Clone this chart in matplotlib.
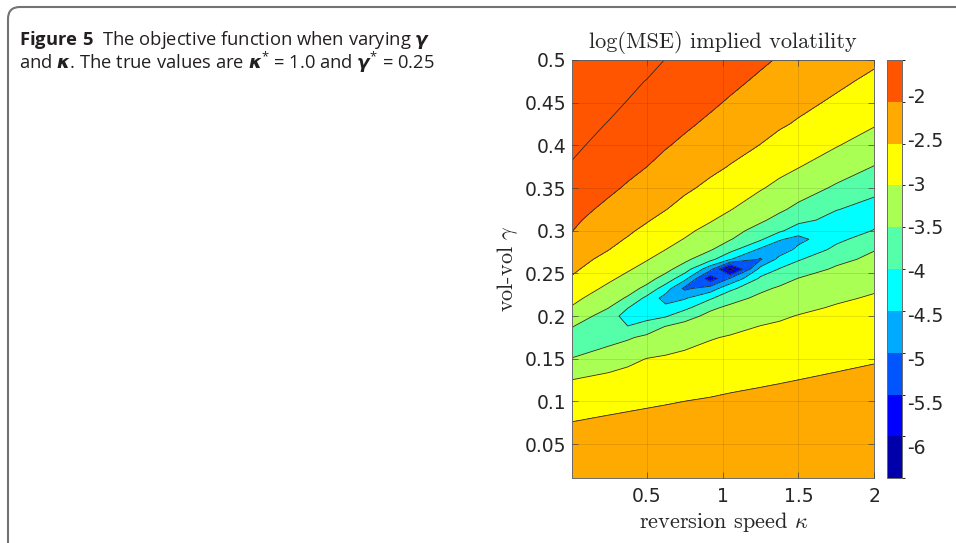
import numpy as np
import matplotlib
matplotlib.use("Agg")
import matplotlib.pyplot as plt
import matplotlib.cm as cm
from matplotlib.colors import ListedColormap, BoundaryNorm
from matplotlib.patches import FancyBboxPatch
from matplotlib.transforms import IdentityTransform

plt.rcParams['axes.unicode_minus'] = False
# custom math fonts, used only by the caption (math_fontfamily='custom')
plt.rcParams['mathtext.rm'] = 'Open Sans'
plt.rcParams['mathtext.bf'] = 'Open Sans:bold'
plt.rcParams['mathtext.it'] = 'DejaVu Sans:italic'
plt.rcParams['mathtext.bfit'] = 'DejaVu Sans:italic:bold'

# ---------------- data ----------------
KAPPA = [0.01, 0.25, 0.375, 0.5, 0.625, 0.75, 0.92, 1.05, 1.25, 1.375, 1.5, 1.75, 2.0]
GAMMA = [0.01, 0.05, 0.075, 0.1, 0.125, 0.15, 0.175, 0.1875, 0.2, 0.21,
         0.221, 0.2325, 0.244, 0.255, 0.2665, 0.278, 0.29, 0.3, 0.3125, 0.325,
         0.35, 0.375, 0.4, 0.425, 0.45, 0.475, 0.5]

# log(MSE) values, one list per kappa column (bottom -> top in gamma)
LOGMSE_K0_01 = [-2.20, -2.24, -2.487, -2.745, -2.99, -3.49, -3.689, -3.49, -3.24, -3.04,
                -2.871, -2.707, -2.543, -2.425, -2.316, -2.208, -2.094, -1.995, -1.925, -1.85,
                -1.805, -1.761, -1.726, -1.695, -1.663, -1.632, -1.60]
LOGMSE_K0_25 = [-2.20, -2.26, -2.416, -2.648, -2.880, -3.220, -3.692, -3.940, -3.705, -3.49,
                -3.304, -3.098, -2.923, -2.782, -2.635, -2.492, -2.392, -2.308, -2.204, -2.10,
                -1.922, -1.831, -1.793, -1.756, -1.72, -1.685, -1.65]
LOGMSE_K0_375 = [-2.20, -2.27, -2.384, -2.607, -2.831, -3.104, -3.559, -3.98, -4.25, -3.977,
                 -3.55, -3.322, -3.122, -2.952, -2.813, -2.674, -2.529, -2.44, -2.342, -2.244,
                 -2.048, -1.887, -1.824, -1.790, -1.755, -1.718, -1.68]
LOGMSE_K0_5 = [-2.20, -2.28, -2.356, -2.568, -2.780, -2.992, -3.396, -3.790, -4.156, -4.35,
               -4.124, -3.607, -3.333, -3.15, -2.972, -2.841, -2.705, -2.591, -2.466, -2.373,
               -2.187, -1.998, -1.85, -1.818, -1.787, -1.755, -1.70]
LOGMSE_K0_625 = [-2.20, -2.29, -2.328, -2.533, -2.738, -2.943, -3.28, -3.474, -4.049, -4.378,
                 -4.7, -4.252, -3.669, -3.364, -3.181, -2.998, -2.867, -2.757, -2.62, -2.489,
                 -2.314, -2.138, -1.968, -1.844, -1.814, -1.784, -1.754]
LOGMSE_K0_75 = [-2.20, -2.265, -2.305, -2.498, -2.695, -2.891, -3.166, -3.354, -3.663, -4.15,
                -4.549, -5.1, -4.342, -3.735, -3.383, -3.203, -3.016, -2.906, -2.776, -2.646,
                -2.426, -2.257, -2.088, -1.928, -1.837, -1.809, -1.782]
LOGMSE_K0_92 = [-2.20, -2.27, -2.31, -2.463, -2.647, -2.831, -3.028, -3.207, -3.385, -3.581,
                -4.061, -4.779, -5.8, -4.85, -3.854, -3.456, -3.279, -3.132, -2.966, -2.843,
                -2.598, -2.404, -2.244, -2.083, -1.928, -1.838, -1.813]
LOGMSE_K1_05 = [-2.20, -2.28, -2.31, -2.428, -2.608, -2.788, -2.968, -3.109, -3.278, -3.414,
                -3.663, -4.12, -4.95, -6.3, -4.476, -3.823, -3.471, -3.329, -3.15, -2.981,
                -2.75, -2.519, -2.358, -2.204, -2.049, -1.898, -1.833]
LOGMSE_K1_25 = [-2.20, -2.29, -2.32, -2.387, -2.558, -2.729, -2.90, -2.985, -3.131, -3.258,
                -3.397, -3.595, -3.916, -4.323, -5.05, -4.593, -3.925, -3.675, -3.429, -3.269,
                -2.964, -2.736, -2.509, -2.362, -2.218, -2.075, -1.928]
LOGMSE_K1_375 = [-2.20, -2.29, -2.33, -2.361, -2.528, -2.695, -2.862, -2.945, -3.052, -3.173,
                 -3.306, -3.444, -3.683, -3.974, -4.345, -4.8, -4.455, -3.913, -3.641, -3.426,
                 -3.118, -2.862, -2.639, -2.448, -2.31, -2.173, -2.036]
LOGMSE_K1_5 = [-2.20, -2.28, -2.31, -2.339, -2.498, -2.661, -2.822, -2.902, -2.983, -3.086,
               -3.216, -3.351, -3.487, -3.749, -4.043, -4.376, -4.65, -4.278, -3.856, -3.615,
               -3.274, -2.982, -2.763, -2.544, -2.395, -2.263, -2.132]
LOGMSE_K1_75 = [-2.20, -2.28, -2.31, -2.34, -2.441, -2.596, -2.75, -2.827, -2.904, -2.965,
                -3.059, -3.186, -3.313, -3.434, -3.625, -3.886, -4.105, -4.255, -4.164, -3.983,
                -3.567, -3.256, -2.975, -2.77, -2.566, -2.419, -2.30]
LOGMSE_K2_0 = [-2.20, -2.28, -2.31, -2.34, -2.387, -2.536, -2.685, -2.759, -2.833, -2.893,
               -2.958, -3.046, -3.163, -3.276, -3.393, -3.521, -3.771, -3.979, -4.115, -4.162,
               -3.882, -3.515, -3.227, -2.963, -2.776, -2.59, -2.435]

CONTOUR_LEVELS = [-6, -5.5, -5, -4.5, -4, -3.5, -3, -2.5, -2, -1.75]
CBAR_TICKS = [-6, -5.5, -5, -4.5, -4, -3.5, -3, -2.5, -2]
CBAR_TICKLABELS = ['-6', '-5.5', '-5', '-4.5', '-4', '-3.5', '-3', '-2.5', '-2']
CLIM = (-6.36, -1.6)
X_TICKS = [0.5, 1, 1.5, 2]
X_TICKLABELS = ['0.5', '1', '1.5', '2']
Y_TICKS = [0.05, 0.1, 0.15, 0.2, 0.25, 0.3, 0.35, 0.4, 0.45, 0.5]
Y_TICKLABELS = ['0.05', '0.1', '0.15', '0.2', '0.25', '0.3', '0.35', '0.4', '0.45', '0.5']

JET10 = ['#0000aa', '#0000ff', '#0055ff', '#00aaff', '#00ffff',
         '#55ffaa', '#aaff55', '#ffff00', '#ffaa00', '#ff5500']

CAPTION = (r'$\mathbf{Figure\ 5}$  The objective function when varying $\boldsymbol{\gamma}$'
           '\n'
           r'and $\boldsymbol{\kappa}$. The true values are $\boldsymbol{\kappa}^{*}$ = 1.0 '
           r'and $\boldsymbol{\gamma}^{*}$ = 0.25')

Z = np.column_stack([LOGMSE_K0_01, LOGMSE_K0_25, LOGMSE_K0_375, LOGMSE_K0_5,
                     LOGMSE_K0_625, LOGMSE_K0_75, LOGMSE_K0_92, LOGMSE_K1_05,
                     LOGMSE_K1_25, LOGMSE_K1_375, LOGMSE_K1_5, LOGMSE_K1_75,
                     LOGMSE_K2_0])

# ---------------- figure ----------------
W, H = 956, 543
fig = plt.figure(figsize=(W / 100, H / 100), dpi=100)
fig.patch.set_facecolor('white')

ax_l, ax_r, ax_t, ax_b = 572.3, 874.3, 60.0, 478.3
ax = fig.add_axes([ax_l / W, 1 - ax_b / H, (ax_r - ax_l) / W, (ax_b - ax_t) / H])

cmap = ListedColormap(JET10)
norm = BoundaryNorm(np.linspace(CLIM[0], CLIM[1], len(JET10) + 1), cmap.N)

fill_levels = [-7.0] + CONTOUR_LEVELS + [-1.0]
ax.contourf(KAPPA, GAMMA, Z, levels=fill_levels, cmap=cmap, norm=norm)
ax.contour(KAPPA, GAMMA, Z, levels=CONTOUR_LEVELS, colors='#2a2a2a',
           linewidths=0.6, linestyles='solid')

ax.set_xlim(0.01, 2.0)
ax.set_ylim(0.01, 0.5)
ax.set_xticks(X_TICKS)
ax.set_xticklabels(X_TICKLABELS)
ax.set_yticks(Y_TICKS)
ax.set_yticklabels(Y_TICKLABELS)
ax.tick_params(direction='in', length=4, width=0.5, top=True, right=True,
               labelsize=13.5, labelcolor='#262626', color='#444444')
ax.tick_params(axis='x', pad=6)
ax.tick_params(axis='y', pad=4)
ax.set_axisbelow(False)
ax.grid(True, color='black', alpha=0.12, linewidth=0.6)
for sp in ax.spines.values():
    sp.set_edgecolor('#6a6a6a')
    sp.set_linewidth(0.7)

ax.text(0.5, 1.0287, 'log(MSE) implied volatility', transform=ax.transAxes,
        ha='center', va='baseline', fontfamily='cmr10', fontsize=16, color='#262626')
ax.set_xlabel(r'reversion speed $\kappa$', fontfamily='cmr10', math_fontfamily='cm',
              fontsize=16, color='#262626')
ax.xaxis.set_label_coords(0.5, -0.075)
ax.set_ylabel(r'vol-vol $\gamma$', fontfamily='cmr10', math_fontfamily='cm',
              fontsize=16, color='#262626')
ax.yaxis.set_label_coords(-0.172, 0.5)

# colorbar
cb_l, cb_r = 887.3, 901.7
cax = fig.add_axes([cb_l / W, 1 - ax_b / H, (cb_r - cb_l) / W, (ax_b - ax_t) / H])
sm = cm.ScalarMappable(norm=norm, cmap=cmap)
cb = fig.colorbar(sm, cax=cax, ticks=CBAR_TICKS)
cb.ax.set_yticklabels(CBAR_TICKLABELS)
cb.ax.tick_params(direction='in', length=0, labelsize=13.5, labelcolor='#262626', pad=4)
cb.outline.set_edgecolor('#6a6a6a')
cb.outline.set_linewidth(0.7)

# caption: one text block, two lines
fig.text(19 / W, 1 - 29 / H, CAPTION, fontfamily='Open Sans', math_fontfamily='custom',
         fontsize=13.2, color='#231f20', ha='left', va='top', linespacing=0.94,
         multialignment='left')

# rounded frame (open at right and bottom)
frame = FancyBboxPatch((8, -40), 1100, H - 7 + 40,
                       boxstyle='round,pad=0,rounding_size=12',
                       transform=IdentityTransform(), fill=False,
                       edgecolor='#737373', linewidth=1.5)
fig.add_artist(frame)

fig.savefig('out.png', dpi=100)
